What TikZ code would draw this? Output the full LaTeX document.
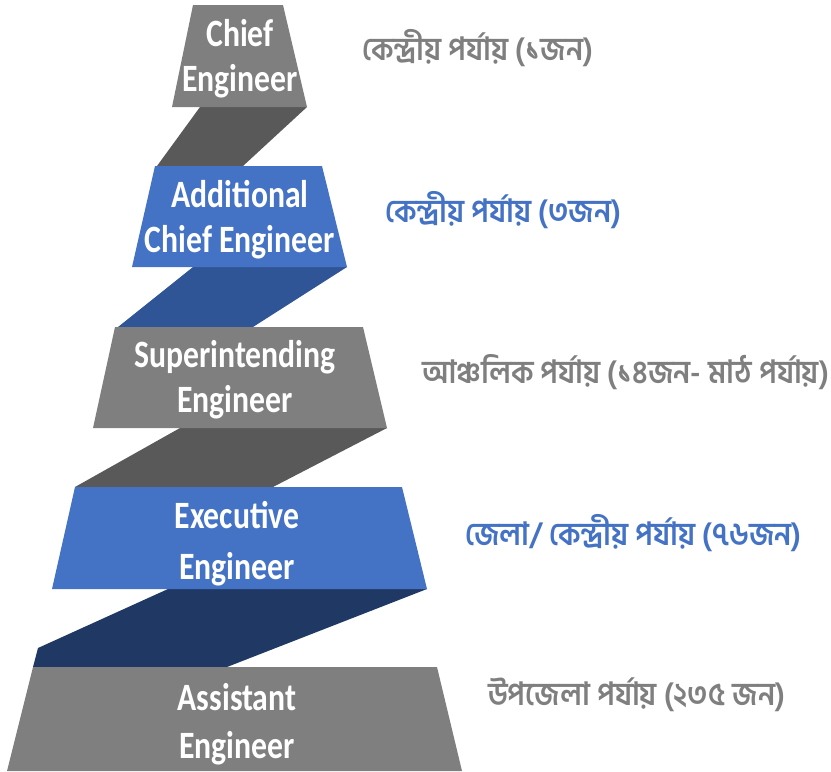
\documentclass[tikz,border=0pt]{standalone}
\usepackage{fontspec}
\usepackage{tikz}
\usetikzlibrary{positioning,calc}

\newfontfamily\tierfont{Carlito}[FakeStretch=0.82]
\newfontfamily\bnfont[Script=Bengali,FakeStretch=0.92]{Hind Siliguri}

\definecolor{tiergray}{HTML}{7F7F7F}
\definecolor{tierblue}{HTML}{4472C4}
\definecolor{linkgray}{HTML}{595959}
\definecolor{linkblue}{HTML}{2F5597}
\definecolor{linknavy}{HTML}{203864}

\begin{document}
\begin{tikzpicture}[
  x=0.75pt, y=-0.75pt,
  tier/.style={font=\tierfont\bfseries\fontsize{29}{36}\selectfont, text=white, align=center},
  level/.style={font=\bnfont\bfseries\fontsize{24}{28}\selectfont, anchor=west},
  every node/.style={inner sep=0pt}
]
\useasboundingbox (0,0) rectangle (831,771);

% Links between tiers
\fill[linkgray] (200,107) -- (307,107) -- (243,166) -- (157,166) -- cycle;
\fill[linkblue] (193,267) -- (347,267) -- (253,327) -- (118,327) -- cycle;
\fill[linkgray] (180,428) -- (387,428) -- (273,487) -- (75,487) -- cycle;
\fill[linknavy] (168,589) -- (427,589) -- (227,667) -- (33,667) -- (38,648) -- cycle;

% Tiers
\fill[tiergray] (193,5) -- (283,5) -- (307,107) -- (172,107) -- cycle;
\fill[tierblue] (155,166) -- (322,166) -- (347,267) -- (132,267) -- cycle;
\fill[tiergray] (115,327) -- (363,327) -- (387,428) -- (93,428) -- cycle;
\fill[tierblue] (75,487) -- (402,487) -- (427,589) -- (52,589) -- cycle;
\fill[tiergray] (33,667) -- (437,667) -- (462,771) -- (7,771) -- cycle;

% Tier titles
\node[tier] (chief) at (240,59) {Chief\\[-2pt]Engineer};
\node[tier] (addl) at (240,220) {Additional\\[-2pt]Chief Engineer};
\node[tier] (se) at (235,380) {Superintending\\[-2pt]Engineer};
\node[tier] (xen) at (237,544) {Executive\\[2pt]Engineer};
\node[tier] (ae) at (237,724) {Assistant\\[0pt]Engineer};

% Levels
\node[level, text=tiergray] (lvchief) at (362,48) {কেন্দ্রীয় পর্যায় (১জন)};
\node[level, text=tierblue] (lvaddl) at (385,210) {কেন্দ্রীয় পর্যায় (৩জন)};
\node[level, text=tiergray] (lvse) at (422,372) {আঞ্চলিক পর্যায় (১৪জন- মাঠ পর্যায়)};
\node[level, text=tierblue] (lvxen) at (465,533) {জেলা/ কেন্দ্রীয় পর্যায় (৭৬জন)};
\node[level, text=tiergray] (lvae) at (488,695) {উপজেলা পর্যায় (২৩৫ জন)};

\end{tikzpicture}
\end{document}
